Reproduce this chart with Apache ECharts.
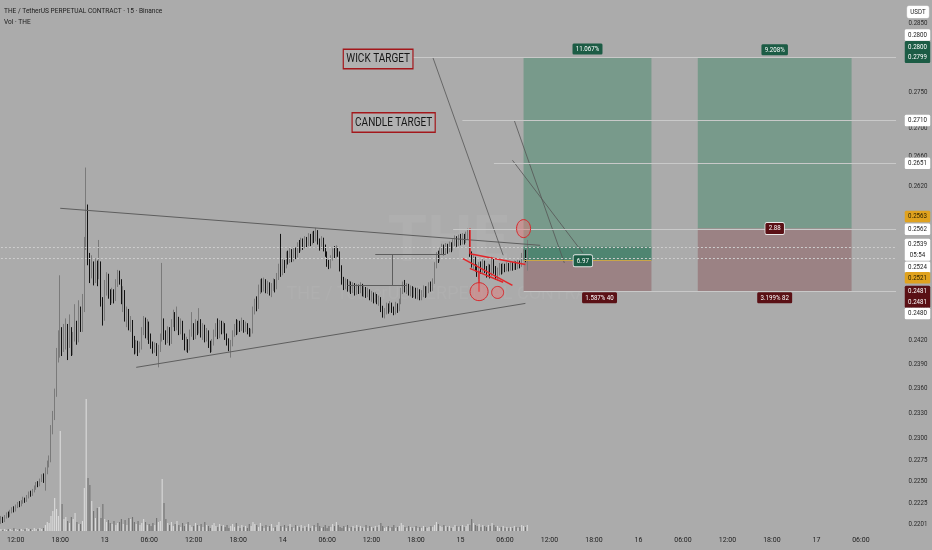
<!DOCTYPE html>
<html><head><meta charset="utf-8">
<script src="https://cdn.jsdelivr.net/npm/echarts@6/dist/echarts.min.js"></script>
<style>html,body{margin:0;padding:0;background:#ababab}#c{width:932px;height:550px}</style>
</head><body><div id="c"></div>
<script>
// ---------- data ----------
const startDay = 12, startHour = 10, barMinutes = 15, categoryCount = 484;
const firstOpen = 0.2203;
const closes = [
.2207,.2204,.2209,.2212,.2210,.2215,.2218,.2216,.2221,.2224,.2222,.2226,.2229,.2227,.2232,.2236,.2234,.2239,.2242,.2247,.2245,.2251,.2256,.2254,.2263,.2270,
.2276,.2312,.2328,.2355,.2404,.2420,
.2430,.2410,.2412,.2435,.2418,.2430,.2408,.2424,.2438,.2420,.2442,.2436,.2462,.2540,.2588,.2525,
.2505,.2515,.2498,.2517,.2502,.2518,.2470,.2448,.2490,.2502,.2478,.2470,.2481,.2472,.2492,.2503,.2495,.2470,.2480,.2448,.2455,.2438,.2442,.2418,.2408,.2415,.2406,.2412,
.2430,.2445,.2428,.2440,.2422,.2414,.2408,.2413,.2406,.2410,.2422,.2440,.2426,.2420,.2432,.2418,.2440,.2452,.2436,.2446,.2430,.2441,.2425,.2412,.2418,.2410,
.2428,.2437,.2425,.2440,.2431,.2443,.2428,.2436,.2422,.2430,.2415,.2409,.2416,.2428,.2437,.2426,.2440,.2432,.2438,.2425,.2418,.2411,.2416,.2428,.2436,.2430,.2441,.2435,.2442,.2433,.2438,.2431,.2428,.2430,
.2458,.2468,.2462,.2483,.2492,.2485,.2494,.2483,.2490,.2481,.2487,.2493,.2486,.2500,.2512,.2506,.2518,.2514,.2528,.2521,.2532,.2524,.2534,.2528,.2540,
.2536,.2546,.2540,.2548,.2543,.2552,.2545,.2555,.2549,.2558,.2547,.2540,.2548,.2538,.2530,.2518,.2514,.2524,.2533,.2528,.2536,.2530,.2512,.2496,.2488,
.2494,.2486,.2491,.2483,.2489,.2480,.2487,.2482,.2488,.2479,.2484,.2477,.2482,.2474,.2478,.2470,.2476,.2469,.2472,.2460,.2452,.2456,.2462,.2457,.2464,.2458,.2455,.2463,.2460,.2468,
.2482,.2490,.2484,.2488,.2480,.2485,.2478,.2483,.2476,.2481,.2474,.2479,.2485,.2477,.2484,.2489,.2486,.2494,.2515,.2528,.2523,.2533,.2538,.2532,.2539,.2535,.2541,.2537,.2544,.2550,
.2543,.2549,.2545,.2552,.2547,.2554,.2558,.2530,.2518,.2524,.2512,.2506,.2514,.2509,.2517,.2510,.2505,.2512,.2504,.2520,.2510,.2503,.2507,.2513,.2508,
.2514,.2510,.2515,.2511,.2516,.2512,.2517,.2513,.2518,.2515,.2527,.2532,.2524,.2539];
const highs = [
.2210,.2209,.2211,.2214,.2215,.2217,.2220,.2221,.2223,.2226,.2227,.2228,.2232,.2231,.2234,.2238,.2239,.2241,.2245,.2249,.2250,.2253,.2258,.2259,.2266,.2274,
.2280,.2316,.2333,.2360,.2410,.2432,
.2502,.2436,.2440,.2447,.2440,.2452,.2436,.2430,.2465,.2444,.2470,.2462,.2478,.2552,.2645,.2595,
.2531,.2528,.2520,.2524,.2521,.2548,.2520,.2474,.2496,.2506,.2504,.2484,.2486,.2484,.2497,.2509,.2508,.2497,.2488,.2483,.2462,.2459,.2450,.2445,.2425,.2420,.2419,.2418,
.2436,.2450,.2448,.2446,.2443,.2428,.2418,.2417,.2416,.2414,.2428,.2518,.2447,.2432,.2437,.2436,.2446,.2458,.2455,.2462,.2449,.2447,.2444,.2428,.2424,.2421,
.2433,.2455,.2441,.2446,.2444,.2460,.2446,.2441,.2439,.2435,.2432,.2419,.2421,.2433,.2441,.2447,.2445,.2444,.2443,.2441,.2428,.2422,.2420,.2432,.2440,.2446,.2445,.2444,.2448,.2445,.2443,.2441,.2435,.2434,
.2462,.2472,.2475,.2490,.2497,.2498,.2499,.2497,.2495,.2493,.2492,.2498,.2497,.2505,.2517,.2556,.2523,.2522,.2533,.2534,.2538,.2536,.2539,.2538,.2545,
.2548,.2551,.2550,.2553,.2552,.2557,.2556,.2559,.2560,.2564,.2561,.2550,.2553,.2551,.2542,.2533,.2522,.2528,.2537,.2540,.2541,.2539,.2533,.2515,.2500,
.2498,.2497,.2495,.2494,.2493,.2492,.2491,.2490,.2493,.2491,.2488,.2487,.2486,.2484,.2482,.2480,.2480,.2478,.2476,.2474,.2463,.2460,.2467,.2466,.2469,.2467,.2462,.2468,.2466,.2472,
.2486,.2494,.2496,.2492,.2491,.2489,.2488,.2487,.2486,.2486,.2484,.2483,.2489,.2488,.2488,.2493,.2494,.2498,.2519,.2532,.2534,.2538,.2543,.2542,.2544,.2543,.2546,.2545,.2549,.2554,
.2553,.2555,.2556,.2557,.2556,.2559,.2563,.2561,.2533,.2528,.2526,.2516,.2519,.2520,.2523,.2521,.2514,.2517,.2516,.2526,.2524,.2514,.2512,.2518,.2517,
.2518,.2517,.2519,.2518,.2520,.2519,.2521,.2520,.2522,.2521,.2531,.2536,.2535,.2548];
const lows = [
.2201,.2202,.2203,.2207,.2208,.2209,.2213,.2214,.2215,.2219,.2220,.2221,.2224,.2225,.2226,.2230,.2232,.2233,.2237,.2240,.2243,.2244,.2249,.2248,.2239,.2258,
.2266,.2272,.2305,.2322,.2350,.2392,
.2398,.2400,.2405,.2408,.2395,.2410,.2400,.2401,.2418,.2414,.2417,.2430,.2430,.2455,.2535,.2515,
.2492,.2498,.2489,.2492,.2488,.2497,.2462,.2438,.2444,.2476,.2472,.2464,.2466,.2466,.2469,.2487,.2490,.2465,.2455,.2443,.2436,.2432,.2430,.2410,.2402,.2403,.2400,.2404,
.2408,.2426,.2422,.2420,.2415,.2409,.2403,.2404,.2400,.2386,.2405,.2418,.2420,.2414,.2416,.2413,.2415,.2436,.2431,.2432,.2426,.2427,.2420,.2407,.2405,.2404,
.2407,.2424,.2420,.2421,.2426,.2428,.2423,.2420,.2417,.2418,.2410,.2404,.2405,.2413,.2424,.2421,.2422,.2427,.2428,.2420,.2413,.2406,.2398,.2412,.2424,.2426,.2427,.2430,.2431,.2429,.2430,.2427,.2424,.2424,
.2428,.2452,.2456,.2459,.2478,.2480,.2481,.2479,.2478,.2476,.2474,.2482,.2480,.2484,.2496,.2500,.2502,.2505,.2511,.2516,.2518,.2519,.2520,.2523,.2525,
.2531,.2533,.2535,.2537,.2538,.2540,.2540,.2542,.2544,.2546,.2542,.2534,.2536,.2533,.2526,.2513,.2510,.2511,.2521,.2524,.2525,.2526,.2507,.2490,.2483,
.2484,.2481,.2480,.2478,.2479,.2476,.2477,.2478,.2479,.2475,.2474,.2473,.2474,.2470,.2468,.2466,.2467,.2465,.2463,.2455,.2448,.2447,.2452,.2453,.2455,.2454,.2451,.2452,.2454,.2456,
.2465,.2478,.2480,.2478,.2476,.2475,.2473,.2474,.2472,.2471,.2470,.2470,.2474,.2473,.2474,.2479,.2481,.2482,.2491,.2511,.2518,.2520,.2529,.2528,.2529,.2530,.2532,.2532,.2534,.2540,
.2539,.2540,.2541,.2542,.2542,.2544,.2548,.2526,.2512,.2510,.2507,.2500,.2497,.2504,.2505,.2505,.2499,.2500,.2498,.2501,.2504,.2496,.2495,.2502,.2503,
.2504,.2506,.2507,.2507,.2508,.2508,.2509,.2509,.2510,.2511,.2513,.2522,.2519,.2508];
const volumes = [
2,1,2,1,2,2,1,3,2,1,2,2,1,2,3,2,2,1,3,2,2,3,2,3,
6,9,8,15,20,33,22,15,
100,27,12,14,10,8,14,12,18,9,7,7,10,43,132,
53,46,30,20,13,23,24,13,27,
12,9,11,8,7,10,6,8,9,12,7,11,6,13,12,14,9,7,10,6,8,12,9,6,7,5,8,6,13,9,10,
52,28,
12,8,6,9,5,7,10,6,4,8,5,7,9,6,4,5,8,6,5,7,4,9,6,5,3,6,8,5,4,7,5,6,
4,6,3,5,7,4,8,5,3,6,4,5,3,7,5,9,7,6,4,8,5,3,6,4,5,7,3,4,6,9,5,4,6,3,5,7,4,3,6,5,
4,6,3,5,4,7,3,5,6,4,8,5,3,4,6,3,5,4,7,5,9,6,4,3,5,4,6,3,4,5,3,6,4,5,3,4,6,3,5,4,
3,5,4,6,8,5,3,4,5,3,4,6,3,4,5,8,6,4,3,5,4,3,4,5,3,4,3,5,4,3,4,5,4,6,9,7,5,4,6,5,
4,5,3,4,6,5,4,5,6,4,5,7,6,12,8,6,5,7,4,6,5,4,6,5,8,6,4,5,3,4,5,3,4,3,4,3,5,4,3,4,6,5,4,6];
const priceTicks = [0.2850,0.2800,0.2750,0.2700,0.2660,0.2620,0.2580,0.2540,0.2500,0.2460,0.2420,0.2390,0.2360,0.2330,0.2300,0.2275,0.2250,0.2225,0.2201];
const tagValues = [0.2800, 0.2800, 0.2710, 0.2651, 0.2563, 0.2562, 0.2539, 0.2524, 0.2521, 0.2481, 0.2480];
const tagTexts  = ['0.2800','0.2800\n0.2799','0.2710','0.2651','0.2563','0.2562','0.2539\n05:54','0.2524','0.2521','0.2481\n0.2481','0.2480'];
const tagKinds  = ['white','green','white','white','orange','white','white','white','orange','red','white'];
const titleText = 'THE / TetherUS PERPETUAL CONTRACT · 15 · Binance';
const subTitleText = 'Vol · THE';
const currencyText = 'USDT';
// position tools: [fromIdx, toIdx, entry, target, stop]
const positions = [[282, 351, 0.2521, 0.2800, 0.2481], [376, 459, 0.2563, 0.2799, 0.2481]];
const lastPrice = 0.2539;
const posTexts = [['11.067%','6.97','1.587% 40'], ['9.208%','2.88','3.199% 82']];
// drawings in data space: [idx1, price1, idx2, price2, kind]
const drawings = [
  [32,0.2590,291,0.2541,'trend'], [73,0.2386,283,0.2466,'trend'],
  [202,0.2529,240,0.2529,'trend'], [211,0.2529,211,0.2489,'trend'], [187,0.2489,219,0.2489,'trend'],
  [233,0.2800,271,0.2528,'thin'], [277,0.2710,304,0.2518,'thin'], [276,0.2655,314,0.2531,'thin'],
  [253,0.2563,253,0.2530,'red'], [253,0.2530,283,0.2516,'red'], [249,0.2524,276,0.2489,'red'],
  [253,0.2511,271,0.2493,'red'], [258,0.2508,258,0.2481,'red'],
  [222,0.2800,483,0.2800,'level'], [249,0.2710,483,0.2710,'level'], [266,0.2651,483,0.2651,'level'],
  [244,0.2562,483,0.2562,'level'], [0,0.2539,483,0.2539,'dot'], [0,0.2524,483,0.2524,'dot'],
  [282,0.2481,483,0.2481,'level'], [282,0.2521,351,0.2521,'entry']
];
const circles = [[258,0.2481,9,9],[268,0.2480,6,6],[282,0.2563,7,9]];
const textNotes = [['WICK TARGET',222,0.2800],['CANDLE TARGET',234,0.2710]];

// ---------- build ----------
const pad = n => String(n).padStart(2,'0');
const cats = [];
for (let i = 0; i < categoryCount; i++) {
  const tm = startHour*60 + i*barMinutes;
  const d = startDay + Math.floor(tm/1440), m = tm % 1440;
  cats.push(d + ' ' + pad(Math.floor(m/60)) + ':' + pad(m%60));
}
const opens = closes.map((c,i) => i === 0 ? firstOpen : closes[i-1]);
const candles = closes.map((c,i) => [opens[i], c, Math.min(lows[i],opens[i],c), Math.max(highs[i],opens[i],c)]);
const volData = volumes.slice(0, closes.length).map((v,i) => ({value: v, itemStyle: {color: closes[i] >= opens[i] ? '#dadada' : '#727272'}}));

const FONT = "Roboto, 'Liberation Sans', sans-serif";
const lineKinds = {
  trend: {color:'#5e5e5e', width:1, type:'solid'},
  thin:  {color:'#555555', width:0.8, type:'solid'},
  red:   {color:'#e3262a', width:1.5, type:'solid'},
  level: {color:'#c9c9c9', width:1, type:'solid'},
  dot:   {color:'#cdcdcd', width:1, type:[2,2]},
  entry: {color:'#c9a548', width:1, type:'solid'}
};
const markLineData = drawings.map(d => [
  {coord:[d[0], d[1]], lineStyle: lineKinds[d[4]]}, {coord:[d[2], d[3]]}
]);
const GREEN = '#789a8b', GREEN_DARK = '#4f8571', REDBOX = '#9b8284';
const markAreaData = [];
positions.forEach((p, k) => {
  markAreaData.push([{coord:[p[0], p[2]], itemStyle:{color:GREEN, opacity:1}}, {coord:[p[1], p[3]]}]);
  markAreaData.push([{coord:[p[0], p[4]], itemStyle:{color:REDBOX, opacity:1}}, {coord:[p[1], p[2]]}]);
  if (k === 0) markAreaData.push([{coord:[p[0], p[2]], itemStyle:{color:GREEN_DARK, opacity:1}}, {coord:[p[1], lastPrice]}]);
});

const chart = echarts.init(document.getElementById('c'));
chart.setOption({
  animation: false,
  backgroundColor: '#ababab',
  textStyle: {fontFamily: FONT},
  grid: [{left:0, right:35, top:0, bottom:19}, {left:0, right:35, top:391, bottom:19}],
  xAxis: [{
    type:'category', data: cats, gridIndex:0, boundaryGap:true,
    axisLine:{show:false}, axisTick:{show:false}, splitLine:{show:false},
    axisLabel:{
      color:'#222', fontSize:7, margin:6, fontFamily: FONT,
      interval: (idx, val) => { const hm = val.split(' ')[1]; return hm.endsWith(':00') && (+hm.slice(0,2)) % 6 === 0; },
      formatter: val => { const [d, hm] = val.split(' '); return hm === '00:00' ? String(+d) : hm; }
    }
  }, {type:'category', data: cats, gridIndex:1, boundaryGap:true, show:false}],
  yAxis: [{
    type:'log', logBase:10, gridIndex:0, position:'right', min:0.21929, max:0.28837,
    axisLine:{show:false}, axisTick:{show:false}, axisLabel:{show:false}, splitLine:{show:false}
  }, {type:'value', gridIndex:1, min:0, max:140, show:false}],
  series: [
    {
      type:'line', data: [], xAxisIndex:0, yAxisIndex:0, silent:true, z:1,
      markArea: {silent:true, data: markAreaData},
      markLine: {silent:true, symbol:['none','none'], label:{show:false}, data: markLineData}
    },
    {
      type:'candlestick', name:'THE', data: candles, xAxisIndex:0, yAxisIndex:0, barWidth:'62%', z:3,
      itemStyle:{color:'#7a7a7a', color0:'#121212', borderColor:'#7a7a7a', borderColor0:'#121212', borderWidth:1}
    },
    {type:'bar', name:'Vol', data: volData, xAxisIndex:1, yAxisIndex:1, barWidth:'60%', z:2}
  ]
});

// ---------- overlay texts (positions from the chart's own scales) ----------
const yPix = v => chart.convertToPixel({yAxisIndex:0}, v);
const ptPix = (i, v) => chart.convertToPixel({xAxisIndex:0, yAxisIndex:0}, [i, v]);
const tagShift = [-22, -5, 0, 0, -12, 0, 3, 9, 17, 5, 21];
const tagStyle = {
  white: {bg:'#ffffff', fg:'#1c1c1c'}, green: {bg:'#1c5c45', fg:'#ffffff'},
  orange:{bg:'#e0a21e', fg:'#2a2000'}, red: {bg:'#5a1015', fg:'#ffffff'}
};
const SQ = 0.82;  // horizontal condensing of the small texts
const g = [];
// title
g.push({type:'text', x:4, y:11, scaleX:SQ, z:50, silent:true, style:{text:titleText, fill:'#1c1c1c', font:'8px ' + FONT, align:'left', verticalAlign:'middle'}});
g.push({type:'text', x:4, y:22, scaleX:SQ, z:50, silent:true, style:{text:subTitleText, fill:'#1c1c1c', font:'8px ' + FONT, align:'left', verticalAlign:'middle'}});
// watermark
g.push({type:'text', x:448, y:245, z:0, silent:true, style:{text:'THE', fill:'rgba(255,255,255,0.05)', font:'bold 64px Roboto, sans-serif', align:'center', verticalAlign:'middle'}});
g.push({type:'text', x:448, y:294, z:0, silent:true, style:{text:'THE / TetherUS PERPETUAL CONTRACT', fill:'rgba(255,255,255,0.05)', font:'18px Roboto, sans-serif', align:'center', verticalAlign:'middle'}});
priceTicks.forEach(v => g.push({type:'text', x:918, y:yPix(v), scaleX:SQ, z:40, silent:true,
  style:{text: v.toFixed(4), fill:'#2b2b2b', font:'7.5px ' + FONT, align:'center', verticalAlign:'middle'}}));
g.push({type:'text', x:918, y:12, scaleX:SQ, z:45, silent:true, style:{text:currencyText, fill:'#1c1c1c', font:'7.5px ' + FONT, align:'center', verticalAlign:'middle', backgroundColor:'#ffffff', borderColor:'#d0d0d0', borderWidth:0.5, borderRadius:2, padding:[2,4]}});
tagValues.forEach((v, k) => {
  const s = tagStyle[tagKinds[k]];
  g.push({type:'text', x:917.5, y:yPix(v) + tagShift[k], scaleX:SQ, z:50, silent:true,
    style:{text: tagTexts[k], fill: s.fg, font:'7.5px ' + FONT, lineHeight:10.5, align:'center', verticalAlign:'middle',
      backgroundColor: s.bg, borderRadius:1.5, padding:[0.5,4]}});
});
// position tool labels
positions.forEach((p, k) => {
  const cx = (ptPix(p[0], p[3])[0] + ptPix(p[1], p[3])[0]) / 2;
  const t = posTexts[k];
  const base = {font:'7.5px ' + FONT, fill:'#ffffff', align:'center', borderRadius:1.5, padding:[1.5,4]};
  g.push({type:'text', x:cx, y:yPix(p[3]) - 8, scaleX:SQ, z:50, silent:true, style:Object.assign({}, base, {text:t[0], verticalAlign:'middle', backgroundColor:'#1c5c45'})});
  const rx = k === 0 ? ptPix(314, p[2])[0] : cx;
  g.push({type:'text', x:rx, y:yPix(p[2]), scaleX:SQ, z:50, silent:true, style:Object.assign({}, base, {text:t[1], verticalAlign:'middle', backgroundColor: k === 0 ? '#1c5c45' : '#5a1015', borderColor:'#e8e8e8', borderWidth:1})});
  const sx = k === 0 ? ptPix(323, p[4])[0] : cx;
  g.push({type:'text', x:sx, y:yPix(p[4]) + 6, scaleX:SQ, z:50, silent:true, style:Object.assign({}, base, {text:t[2], verticalAlign:'middle', backgroundColor:'#5a1015'})});
});
// red circles
circles.forEach(c => {
  const p = ptPix(c[0], c[1]);
  g.push({type:'ellipse', z:45, silent:true, shape:{cx:p[0], cy:p[1], rx:c[2], ry:c[3]}, style:{fill:'rgba(228,120,120,0.45)', stroke:'#d7282c', lineWidth:1}});
});
// text notes
textNotes.forEach(n => {
  const p = ptPix(n[1], n[2]);
  g.push({type:'text', x:p[0], y:p[1] + 2, scaleX:0.8, z:50, silent:true,
    style:{text:n[0], fill:'#161616', font:'12.5px ' + FONT, align:'right', verticalAlign:'middle',
      backgroundColor:'#b1b1b1', borderColor:'#a3171b', borderWidth:1.5, padding:[3,3,2,3]}});
});
chart.setOption({graphic: {elements: g}});
</script></body></html>
